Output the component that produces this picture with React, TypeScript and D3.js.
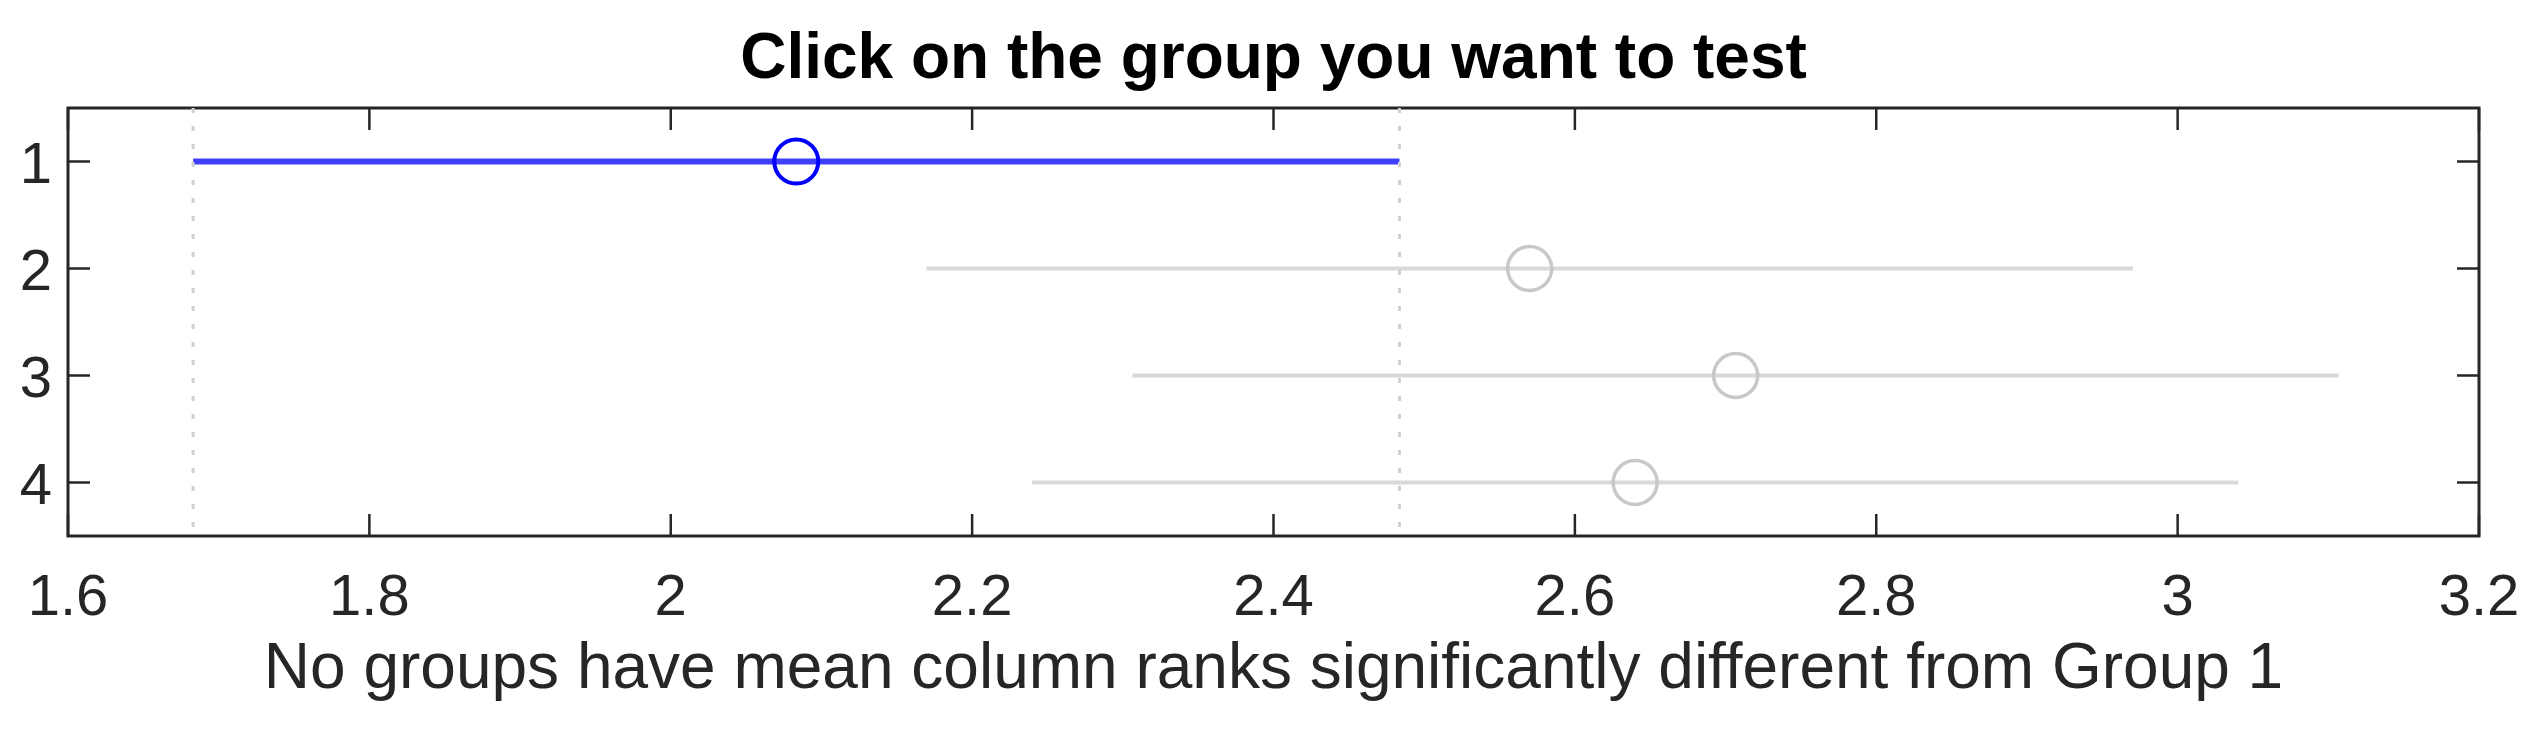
import React, {useEffect, useRef} from 'react'
import * as d3 from 'd3'

const groups = [1, 2, 3, 4];
const meanRanks = [2.0833, 2.5700, 2.7067, 2.6400];
const lowerBounds = [1.6830, 2.1697, 2.3064, 2.2397];
const upperBounds = [2.4836, 2.9703, 3.1070, 3.0403];
const xTicks = [1.6, 1.8, 2, 2.2, 2.4, 2.6, 2.8, 3, 3.2];
const selectedGroup = 1;

const titleText = 'Click on the group you want to test';
const xLabelText = 'No groups have mean column ranks significantly different from Group 1';

const App = ({width = 2540, height = 734}) => {
  const ref = useRef(null);

  const margin = {top: 108, right: 61, bottom: 198, left: 68};

  useEffect(() => {
    const innerW = width - margin.left - margin.right;
    const innerH = height - margin.top - margin.bottom;

    const xScale = d3.scaleLinear()
      .domain([1.6, 3.2])
      .range([0, innerW]);

    const yScale = d3.scaleLinear()
      .domain([0.5, 4.5])
      .range([0, innerH]);

    const svg = d3.select(ref.current);
    const g = svg.append('g')
      .attr('transform', 'translate(' + margin.left + ',' + margin.top + ')');

    const axisColor = '#262626';
    const tickLen = 22;

    // interval lines + markers
    const rows = groups.map((grp, i) => ({
      grp, mean: meanRanks[i], lo: lowerBounds[i], hi: upperBounds[i]
    }));

    g.append('g')
      .selectAll('line')
      .data(rows)
      .enter()
      .append('line')
      .attr('x1', d => xScale(d.lo))
      .attr('x2', d => xScale(d.hi))
      .attr('y1', d => yScale(d.grp))
      .attr('y2', d => yScale(d.grp))
      .attr('stroke', d => d.grp === selectedGroup ? '#3f3fff' : '#d9d9d9')
      .attr('stroke-width', d => d.grp === selectedGroup ? 6 : 4);

    g.append('g')
      .selectAll('circle')
      .data(rows)
      .enter()
      .append('circle')
      .attr('cx', d => xScale(d.mean))
      .attr('cy', d => yScale(d.grp))
      .attr('r', 22)
      .attr('fill', 'none')
      .attr('stroke', d => d.grp === selectedGroup ? '#0000ff' : '#c8c8c8')
      .attr('stroke-width', d => d.grp === selectedGroup ? 4 : 3.5);

    // box
    g.append('rect')
      .attr('x', 0)
      .attr('y', 0)
      .attr('width', innerW)
      .attr('height', innerH)
      .attr('fill', 'none')
      .attr('stroke', axisColor)
      .attr('stroke-width', 3);

    // x ticks top & bottom (inward)
    const xt = g.append('g');
    xTicks.forEach(t => {
      const x = xScale(t);
      xt.append('line').attr('x1', x).attr('x2', x).attr('y1', innerH).attr('y2', innerH - tickLen)
        .attr('stroke', axisColor).attr('stroke-width', 2.5);
      xt.append('line').attr('x1', x).attr('x2', x).attr('y1', 0).attr('y2', tickLen)
        .attr('stroke', axisColor).attr('stroke-width', 2.5);
      xt.append('text')
        .attr('x', x)
        .attr('y', innerH + 79)
        .attr('text-anchor', 'middle')
        .attr('font-family', 'Liberation Sans, Arial, sans-serif')
        .attr('font-size', 58)
        .attr('fill', axisColor)
        .text(d3.format('~g')(t));
    });

    // y ticks left & right (inward)
    const yt = g.append('g');
    groups.forEach(grp => {
      const y = yScale(grp);
      yt.append('line').attr('x1', 0).attr('x2', tickLen).attr('y1', y).attr('y2', y)
        .attr('stroke', axisColor).attr('stroke-width', 2.5);
      yt.append('line').attr('x1', innerW).attr('x2', innerW - tickLen).attr('y1', y).attr('y2', y)
        .attr('stroke', axisColor).attr('stroke-width', 2.5);
      yt.append('text')
        .attr('x', -16)
        .attr('y', y + 21)
        .attr('text-anchor', 'end')
        .attr('font-family', 'Liberation Sans, Arial, sans-serif')
        .attr('font-size', 58)
        .attr('fill', axisColor)
        .text(grp);
    });

    // dotted reference lines at the selected group's interval ends
    const sel = rows.find(r => r.grp === selectedGroup);
    g.append('g')
      .selectAll('line')
      .data([sel.lo, sel.hi])
      .enter()
      .append('line')
      .attr('x1', d => xScale(d))
      .attr('x2', d => xScale(d))
      .attr('y1', 0)
      .attr('y2', innerH)
      .attr('stroke', '#d0d0d0')
      .attr('stroke-width', 3)
      .attr('stroke-dasharray', '5,13');

    // title
    svg.append('text')
      .attr('x', margin.left + innerW / 2)
      .attr('y', 78)
      .attr('text-anchor', 'middle')
      .attr('font-family', 'Liberation Sans, Arial, sans-serif')
      .attr('font-weight', 'bold')
      .attr('font-size', 64)
      .attr('fill', '#000')
      .text(titleText);

    // x label
    svg.append('text')
      .attr('x', margin.left + innerW / 2)
      .attr('y', 688)
      .attr('text-anchor', 'middle')
      .attr('font-family', 'Liberation Sans, Arial, sans-serif')
      .attr('font-size', 64)
      .attr('fill', axisColor)
      .text(xLabelText);

    return () => { d3.select(ref.current).selectAll('*').remove() }
  }, []);

  return (
    <svg ref={ref} width={width} height={height}
      style={{position: 'absolute', left: 0, top: 0, background: '#fff'}}>
    </svg>
  )
};

export default App
